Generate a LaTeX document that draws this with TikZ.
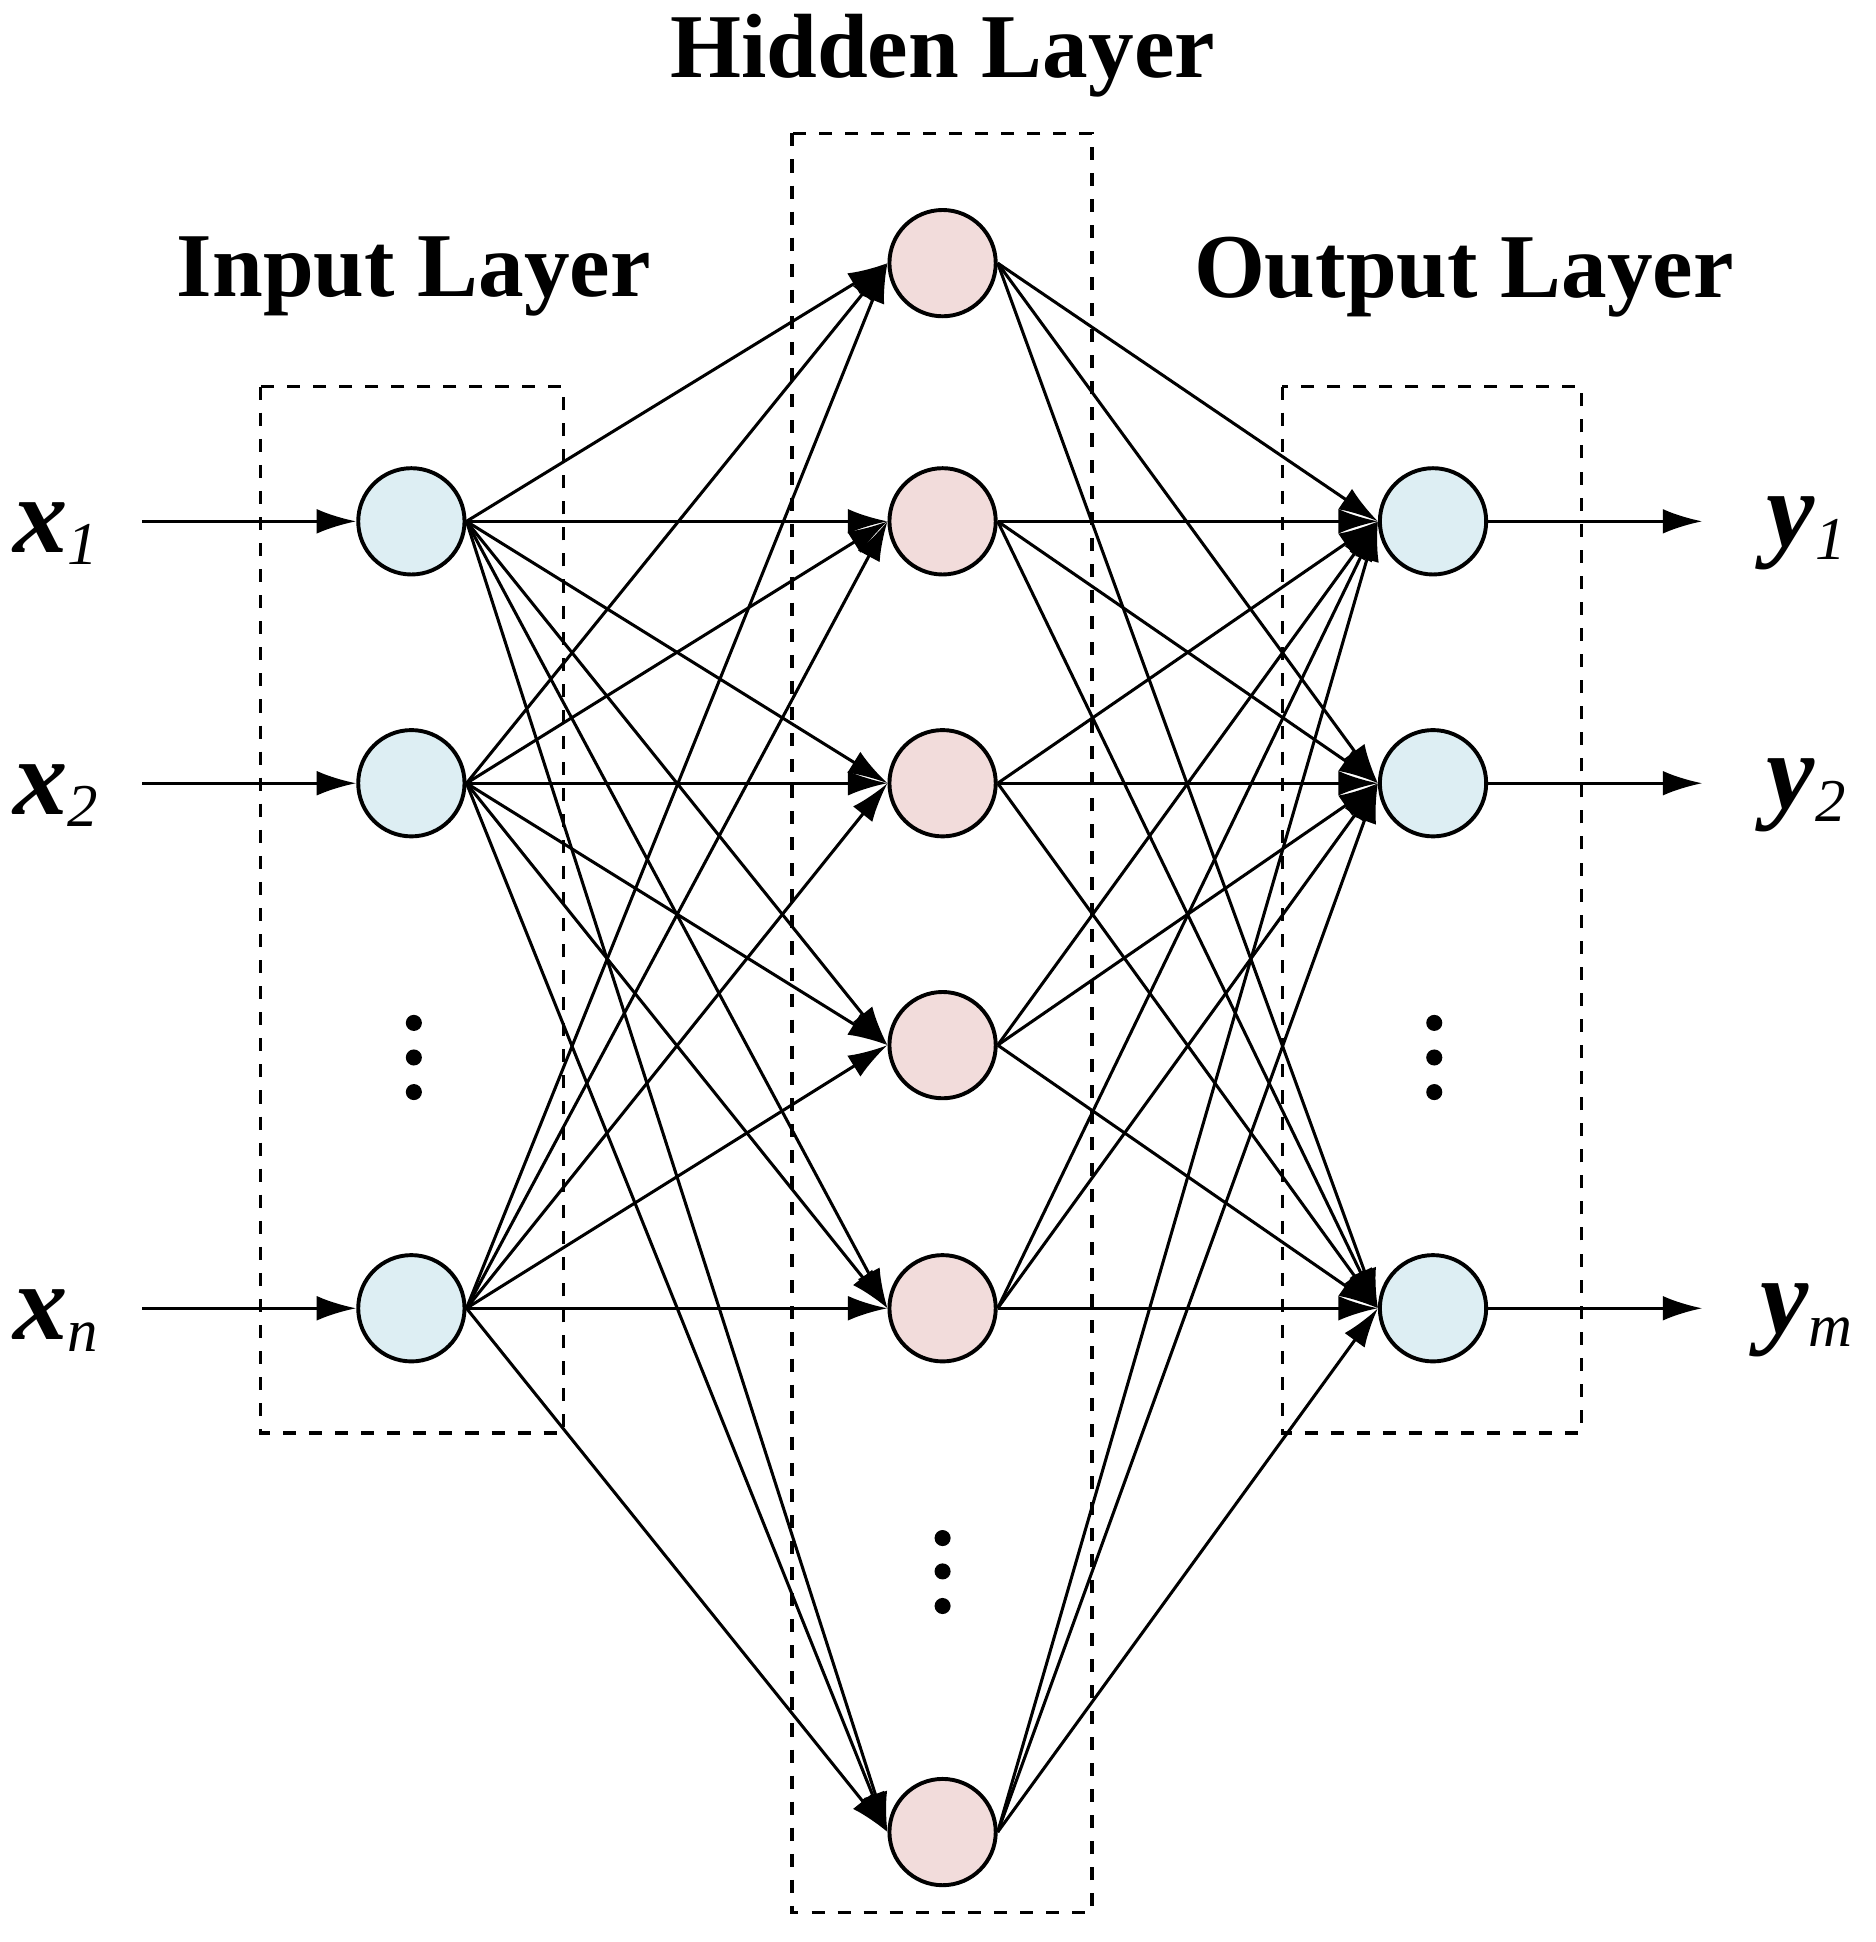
\documentclass[tikz,border=0pt]{standalone}
\usepackage{fontspec}
\setmainfont{Liberation Serif}
\usetikzlibrary{arrows.meta}
\definecolor{inb}{HTML}{DDEEF3}
\definecolor{hid}{HTML}{F2DCDB}
\newcommand{\sbx}[1]{\raisebox{-0.25ex}{\fontsize{14}{14}\selectfont\mdseries\itshape #1}}
\begin{document}
\begin{tikzpicture}[x=0.01cm,y=-0.01cm,
  neu/.style={circle,draw,line width=0.9pt,minimum size=0.86cm,inner sep=0pt},
  inn/.style={neu,fill=inb}, hn/.style={neu,fill=hid},
  con/.style={line width=0.7pt,-{Latex[length=3.2mm,width=2mm]}},
  box/.style={dashed,line width=0.8pt},
  ttl/.style={font=\fontsize{21}{24}\selectfont\bfseries},
  var/.style={font=\fontsize{25}{28}\selectfont\bfseries\itshape},
  dot/.style={circle,fill,inner sep=0pt,minimum size=0.13cm}]
\useasboundingbox (0,0) rectangle (1518,1572);
\draw[box] (211,313) rectangle (456,1160);
\draw[box] (641,108) rectangle (884,1548);
\draw[box] (1038,313) rectangle (1280,1160);
\node[ttl] (th) at (763,45) {Hidden Layer};
\node[ttl] (ti) at (335,224) {Input Layer};
\node[ttl] (to) at (1185,224) {Output Layer};
\foreach \i/\y in {1/422,2/634,3/1059} \node[inn] (i\i) at (333,\y) {};
\foreach \i/\y in {1/213,2/422,3/634,4/846,5/1059,6/1483} \node[hn] (h\i) at (763,\y) {};
\foreach \i/\y in {1/422,2/634,3/1059} \node[inn] (o\i) at (1160,\y) {};
\foreach \i in {1,2,3} \foreach \j in {1,...,6} \draw[con] (i\i.east) -- (h\j.west);
\foreach \j in {1,...,6} \foreach \k in {1,2,3} \draw[con] (h\j.east) -- (o\k.west);
\node[var] (x1) at (45,432) {x\sbx{1}};
\node[var] (x2) at (45,644) {x\sbx{2}};
\node[var] (xn) at (45,1069) {x\sbx{n}};
\node[var] (y1) at (1462,432) {y\sbx{1}};
\node[var] (y2) at (1462,644) {y\sbx{2}};
\node[var] (ym) at (1462,1069) {y\sbx{m}};
\coordinate (a1) at (115,422); \coordinate (a2) at (115,634); \coordinate (a3) at (115,1059);
\coordinate (b1) at (1378,422); \coordinate (b2) at (1378,634); \coordinate (b3) at (1378,1059);
\foreach \i in {1,2,3} {\draw[con] (a\i) -- (i\i); \draw[con] (o\i) -- (b\i);}
\foreach \y [count=\n] in {828,856,884} {
  \node[dot] (di\n) at (335,\y) {};
  \node[dot] (do\n) at (1161,\y) {};}
\foreach \y [count=\n] in {1245,1272,1300} \node[dot] (dh\n) at (763,\y) {};
\end{tikzpicture}
\end{document}
